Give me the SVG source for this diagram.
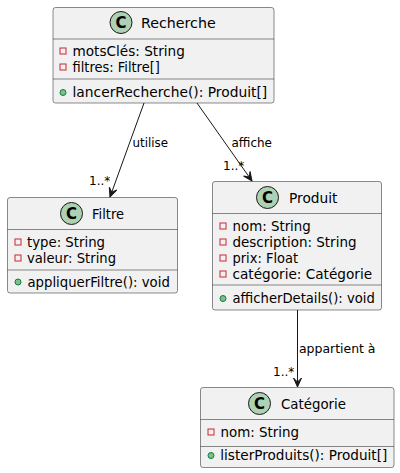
<svg xmlns="http://www.w3.org/2000/svg" width="400" height="473" viewBox="0 0 400 473">
<style>
.box{fill:#F1F1F1;stroke:#181818;stroke-width:0.5}
.sep{stroke:#181818;stroke-width:0.5}
.ci{fill:#ADD1B2;stroke:#181818;stroke-width:1}
.cl{font-family:"DejaVu Sans",sans-serif;font-size:15px;font-weight:bold;fill:#000;text-anchor:middle}
.nm{font-family:"DejaVu Sans",sans-serif;font-size:14px;fill:#000}
.mb{font-family:"DejaVu Sans",sans-serif;font-size:13.5px;fill:#000}
.lb{font-family:"DejaVu Sans",sans-serif;font-size:12px;fill:#000}
.pv{fill:none;stroke:#C82930;stroke-width:1}
.pb{fill:#84BE84;stroke:#038048;stroke-width:1}
.edge{stroke:#181818;stroke-width:1;fill:none;marker-end:url(#ah)}
</style>
<defs>
<marker id="ah" viewBox="-10 -5 11 10" refX="0" refY="0" markerWidth="11" markerHeight="10" markerUnits="userSpaceOnUse" orient="auto">
<path d="M0,0 L-9,-4 L-5,0 L-9,4 Z" fill="#181818" stroke="#181818" stroke-width="1"/>
</marker>
</defs>
<g id="connectors">
<line class="edge" x1="144" y1="103" x2="110" y2="197"/>
<text class="lb" x="132.5" y="147" textLength="35.5" lengthAdjust="spacingAndGlyphs">utilise</text>
<text class="lb" x="89" y="185">1..*</text>
<line class="edge" x1="197" y1="103" x2="252" y2="181"/>
<text class="lb" x="231.5" y="147" textLength="40.5" lengthAdjust="spacingAndGlyphs">affiche</text>
<text class="lb" x="223" y="170">1..*</text>
<line class="edge" x1="297.5" y1="310" x2="297.5" y2="387"/>
<text class="lb" x="299" y="353" textLength="76.5" lengthAdjust="spacingAndGlyphs">appartient à</text>
<text class="lb" x="273" y="376">1..*</text>
</g>
<g id="Recherche">
<rect class="box" x="53" y="7.5" width="221" height="95.5" rx="2.5"/>
<circle class="ci" cx="121" cy="22.5" r="11"/>
<text class="cl" x="121" y="28">C</text>
<text class="nm" x="141" y="27.5" textLength="74.7" lengthAdjust="spacingAndGlyphs">Recherche</text>
<line class="sep" x1="53" y1="39" x2="274" y2="39"/>
<rect class="pv" x="60" y="48" width="6" height="6"/>
<text class="mb" x="72.5" y="56" textLength="112.3" lengthAdjust="spacingAndGlyphs">motsClés: String</text>
<rect class="pv" x="60" y="64" width="6" height="6"/>
<text class="mb" x="72.5" y="72" textLength="87.3" lengthAdjust="spacingAndGlyphs">filtres: Filtre[]</text>
<line class="sep" x1="53" y1="79" x2="274" y2="79"/>
<circle class="pb" cx="63" cy="92.5" r="3"/>
<text class="mb" x="72.5" y="97" textLength="194.7" lengthAdjust="spacingAndGlyphs">lancerRecherche(): Produit[]</text>
</g>
<g id="Filtre">
<rect class="box" x="7.5" y="197.5" width="170" height="95.5" rx="2.5"/>
<circle class="ci" cx="71.5" cy="213.5" r="11"/>
<text class="cl" x="71.5" y="219">C</text>
<text class="nm" x="92" y="218.5" textLength="32" lengthAdjust="spacingAndGlyphs">Filtre</text>
<line class="sep" x1="7.5" y1="229.5" x2="177.5" y2="229.5"/>
<rect class="pv" x="15" y="239" width="6" height="6"/>
<text class="mb" x="27" y="246.5" textLength="78" lengthAdjust="spacingAndGlyphs">type: String</text>
<rect class="pv" x="15" y="255" width="6" height="6"/>
<text class="mb" x="27" y="262.5" textLength="89" lengthAdjust="spacingAndGlyphs">valeur: String</text>
<line class="sep" x1="7.5" y1="270" x2="177.5" y2="270"/>
<circle class="pb" cx="18" cy="282" r="3"/>
<text class="mb" x="27.5" y="286.5" textLength="142.3" lengthAdjust="spacingAndGlyphs">appliquerFiltre(): void</text>
</g>
<g id="Produit">
<rect class="box" x="212.5" y="181.5" width="169" height="128.5" rx="2.5"/>
<circle class="ci" cx="267.5" cy="197.5" r="11"/>
<text class="cl" x="267.5" y="203">C</text>
<text class="nm" x="289" y="202.5" textLength="48.5" lengthAdjust="spacingAndGlyphs">Produit</text>
<line class="sep" x1="212.5" y1="213.5" x2="381.5" y2="213.5"/>
<rect class="pv" x="220" y="223" width="6" height="6"/>
<text class="mb" x="232.5" y="230.5" textLength="78.3" lengthAdjust="spacingAndGlyphs">nom: String</text>
<rect class="pv" x="220" y="239" width="6" height="6"/>
<text class="mb" x="232.5" y="246.5" textLength="124" lengthAdjust="spacingAndGlyphs">description: String</text>
<rect class="pv" x="220" y="255" width="6" height="6"/>
<text class="mb" x="232.5" y="262.5" textLength="65.6" lengthAdjust="spacingAndGlyphs">prix: Float</text>
<rect class="pv" x="220" y="271" width="6" height="6"/>
<text class="mb" x="232.5" y="278.5" textLength="139.6" lengthAdjust="spacingAndGlyphs">catégorie: Catégorie</text>
<line class="sep" x1="212.5" y1="285" x2="381.5" y2="285"/>
<circle class="pb" cx="223" cy="298.5" r="3"/>
<text class="mb" x="232.5" y="303" textLength="142.3" lengthAdjust="spacingAndGlyphs">afficherDetails(): void</text>
</g>
<g id="Categorie">
<rect class="box" x="200.5" y="387.5" width="193.5" height="80" rx="2.5"/>
<circle class="ci" cx="259.5" cy="403.5" r="11"/>
<text class="cl" x="259.5" y="409">C</text>
<text class="nm" x="281" y="408.5" textLength="65" lengthAdjust="spacingAndGlyphs">Catégorie</text>
<line class="sep" x1="200.5" y1="419.5" x2="394" y2="419.5"/>
<rect class="pv" x="208" y="429" width="6" height="6"/>
<text class="mb" x="220.5" y="436.5" textLength="78.6" lengthAdjust="spacingAndGlyphs">nom: String</text>
<line class="sep" x1="200.5" y1="446.5" x2="394" y2="446.5"/>
<circle class="pb" cx="211" cy="455.5" r="3"/>
<text class="mb" x="220.3" y="460" textLength="167" lengthAdjust="spacingAndGlyphs">listerProduits(): Produit[]</text>
</g>
</svg>
